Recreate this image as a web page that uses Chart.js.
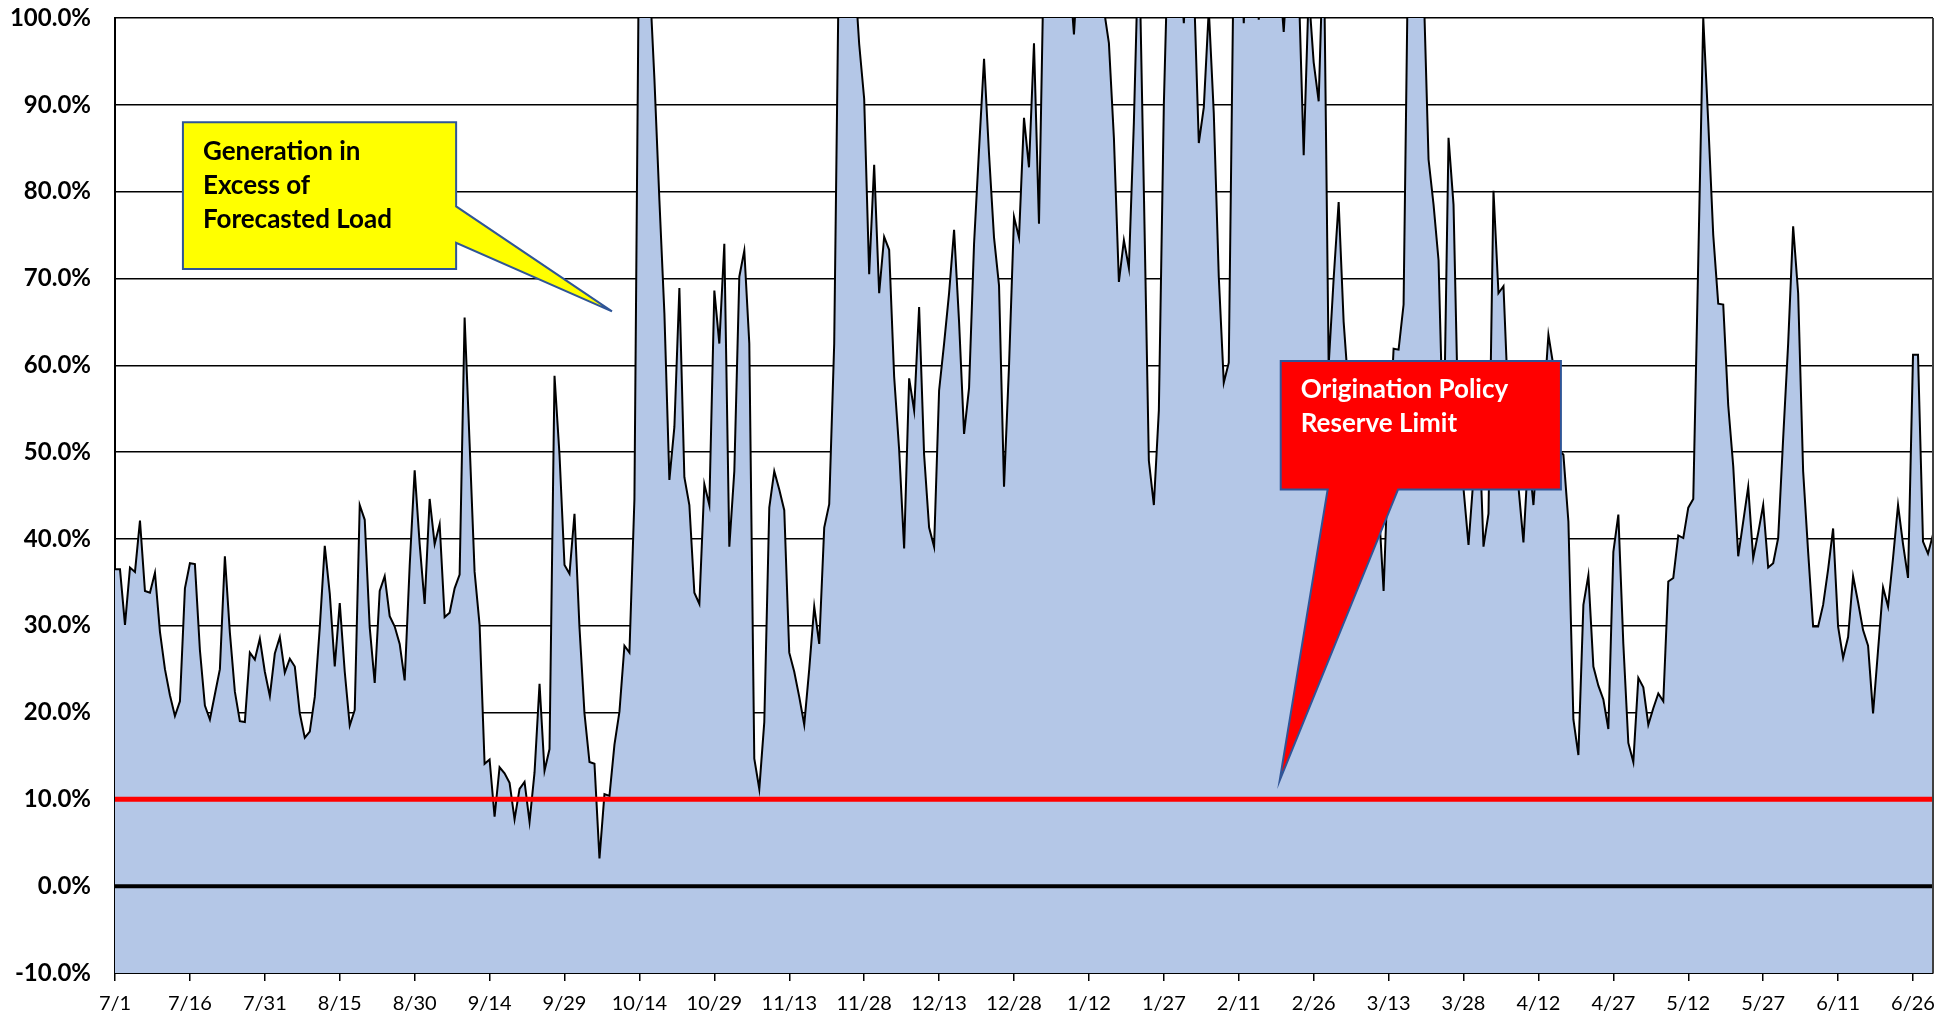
<!DOCTYPE html>
<html>
<head>
<meta charset="utf-8">
<script src="https://cdn.jsdelivr.net/npm/chart.js@4.4.1/dist/chart.umd.min.js"></script>
<style>
  html, body { margin: 0; padding: 0; background: #fff; }
  #wrap { width: 1958px; height: 1016px; }
</style>
</head>
<body>
<div id="wrap"><canvas id="reserveChart" width="1958" height="1016"></canvas></div>
<script>
// Daily reserve margin, 7/1 through 6/30 (one value per day, % of forecasted load)
const tickLabels = ['7/1', '7/16', '7/31', '8/15', '8/30', '9/14', '9/29', '10/14', '10/29', '11/13',
    '11/28', '12/13', '12/28', '1/12', '1/27', '2/11', '2/26', '3/13', '3/28', '4/12',
    '4/27', '5/12', '5/27', '6/11', '6/26'];

const reserveMargin = [
    36.5, 36.5, 30.1, 36.7, 36.2, 42.1, 34.0, 33.8, 36.1, 29.3,   // 7/1
    25.0, 22.0, 19.6, 21.3, 34.3, 37.2, 37.1, 27.2, 20.8, 19.2,
    22.1, 25.0, 38.0, 29.2, 22.4, 19.0, 18.9, 26.9, 26.1, 28.5,
    24.7, 21.9, 26.8, 28.7, 24.6, 26.2, 25.3, 19.9, 17.1, 17.8,   // 7/31
    21.8, 29.8, 39.2, 33.7, 25.3, 32.6, 24.7, 18.5, 20.3, 43.9,
    42.2, 29.8, 23.4, 34.0, 35.7, 31.1, 29.9, 27.9, 23.7, 36.9,
    47.9, 39.4, 32.5, 44.6, 39.4, 41.7, 31.0, 31.5, 34.3, 35.9,   // 8/30
    65.5, 51.0, 36.2, 30.1, 14.1, 14.6, 8.0, 13.7, 13.0, 11.9,
    7.7, 11.2, 12.0, 7.4, 13.1, 23.3, 13.3, 15.8, 58.8, 49.7,
    37.0, 36.0, 42.9, 29.8, 19.9, 14.3, 14.1, 3.2, 10.6, 10.4,    // 9/29
    16.3, 20.1, 27.7, 26.9, 44.6, 115, 125, 105, 93, 79,
    66, 46.8, 52.9, 68.9, 47.1, 43.9, 33.8, 32.5, 46.3, 43.9,
    68.6, 62.5, 74.0, 39.1, 47.8, 70.2, 73.2, 62.5, 14.7, 11.2,   // 10/29
    18.9, 43.6, 47.8, 45.7, 43.3, 26.9, 24.7, 21.8, 18.6, 25.0,
    32.2, 27.9, 41.3, 44.0, 62.5, 110, 118, 112, 106, 97,
    90.7, 70.5, 83.1, 68.3, 74.8, 73.3, 58.7, 50.3, 38.9, 58.5,   // 11/28
    54.8, 66.7, 49.7, 41.3, 39.1, 57.1, 62.5, 68.3, 75.6, 65,
    52.1, 57.4, 74.0, 84.9, 95.3, 84.3, 74.7, 69.2, 46.0, 59.9,
    77.1, 74.7, 88.5, 82.8, 97.1, 76.3, 108, 115, 122, 118,       // 12/28
    112, 106, 98.1, 108, 118, 125, 115, 108, 101, 97.1,
    86.2, 69.6, 74.4, 71.2, 88, 110, 80, 49.0, 43.9, 54.8,
    90, 112, 120, 108, 99.4, 110, 104, 85.6, 89.7, 101,           // 1/27
    89, 70.2, 58.0, 60.3, 108, 115, 99.4, 112, 118, 99.8,
    110, 120, 112, 106, 98.4, 108, 112, 104, 84.2, 103,
    94.9, 90.4, 110, 60, 70, 78.8, 65, 57, 52, 50,                // 2/26
    55, 48, 51, 44, 34.0, 50, 61.9, 61.8, 67.0, 112,
    125, 115, 104, 83.7, 78.5, 72.1, 50, 86.2, 78.5, 52,
    45.8, 39.3, 47.1, 55, 39.1, 42.9, 80.1, 68.3, 69.1, 55,       // 3/28
    50, 46, 39.6, 50, 43.9, 52, 55, 63.5, 59.9, 50.3,
    49.7, 42.0, 19.2, 15.1, 32.4, 35.8, 25.3, 23.1, 21.5, 18.1,
    38.5, 42.8, 27.9, 16.5, 14.3, 24.0, 22.9, 18.6, 20.5, 22.2,   // 4/27
    21.3, 35.1, 35.5, 40.4, 40.1, 43.6, 44.6, 72, 100, 88,
    75, 67.1, 67.0, 55.4, 48.4, 38.0, 42.0, 46.0, 37.8, 40.7,
    43.9, 36.7, 37.2, 40.1, 51.6, 62.5, 76.0, 68.3, 47.8, 38.5,   // 5/27
    29.9, 29.9, 32.4, 36.5, 41.2, 29.9, 26.3, 28.7, 35.7, 32.7,
    29.5, 27.7, 19.9, 27.2, 34.4, 32.2, 37.8, 43.9, 39.4, 35.5,
    61.2, 61.2, 39.7, 38.3, 40.5                                  // 6/26
];

const reserveLimit = 10;   // origination policy reserve limit, %
const zeroLevel = 0;

const lastDay = reserveMargin.length - 1;
const marginPoints = reserveMargin.map((v, i) => ({ x: i, y: v }));

// callout boxes, placed in data units (day index, %)
const callouts = [
    {
        lines: ['Generation in', 'Excess of', 'Forecasted Load'],
        fill: '#FFFF00', textColor: '#000',
        box: [13.6, 68.3, 88.0, 71.1], side: 'right', base: [78.3, 74.1], tip: [99.5, 66.2]
    },
    {
        lines: ['Origination Policy', 'Reserve Limit'],
        fill: '#FF0000', textColor: '#fff',
        box: [233.4, 289.5, 60.5, 45.7], side: 'bottom', base: [242.8, 256.9], tip: [233.2, 12.2]
    }
];

const calloutPlugin = {
    id: 'callouts',
    afterDraw(chart) {
        const c = chart.ctx;
        const xs = chart.scales.x, ys = chart.scales.y;
        const area = chart.chartArea;

        // right edge of the plot area
        c.save();
        c.strokeStyle = '#404040';
        c.lineWidth = 2;
        c.beginPath();
        c.moveTo(area.right, area.top);
        c.lineTo(area.right, area.bottom);
        c.stroke();
        c.restore();

        callouts.forEach(co => {
            const left = xs.getPixelForValue(co.box[0]);
            const right = xs.getPixelForValue(co.box[1]);
            const top = ys.getPixelForValue(co.box[2]);
            const bottom = ys.getPixelForValue(co.box[3]);
            const tx = xs.getPixelForValue(co.tip[0]);
            const ty = ys.getPixelForValue(co.tip[1]);

            c.save();
            c.beginPath();
            c.moveTo(left, top);
            c.lineTo(right, top);
            if (co.side === 'right') {
                c.lineTo(right, ys.getPixelForValue(co.base[0]));
                c.lineTo(tx, ty);
                c.lineTo(right, ys.getPixelForValue(co.base[1]));
                c.lineTo(right, bottom);
                c.lineTo(left, bottom);
            } else {
                c.lineTo(right, bottom);
                c.lineTo(xs.getPixelForValue(co.base[1]), bottom);
                c.lineTo(tx, ty);
                c.lineTo(xs.getPixelForValue(co.base[0]), bottom);
                c.lineTo(left, bottom);
            }
            c.closePath();
            c.fillStyle = co.fill;
            c.fill();
            c.strokeStyle = '#2F5597';
            c.lineWidth = 2;
            c.lineJoin = 'miter';
            c.stroke();

            c.fillStyle = co.textColor;
            c.font = 'bold 26px Lato';
            c.textBaseline = 'middle';
            c.textAlign = 'left';
            co.lines.forEach((t, i) => {
                c.fillText(t, left + 20, top + 29 + i * 34);
            });
            c.restore();
        });
    }
};

const ctx = document.getElementById('reserveChart').getContext('2d');
new Chart(ctx, {
    type: 'line',
    data: {
        datasets: [
            {
                label: 'Reserve Margin',
                data: marginPoints,
                borderColor: '#000',
                borderWidth: 2,
                backgroundColor: '#B4C7E7',
                fill: 'start',
                pointRadius: 0,
                tension: 0,
                clip: 0,
                order: 3
            },
            {
                label: 'Zero',
                data: [{ x: 0, y: zeroLevel }, { x: lastDay, y: zeroLevel }],
                borderColor: '#000',
                borderWidth: 4,
                pointRadius: 0,
                fill: false,
                order: 2
            },
            {
                label: 'Origination Policy Reserve Limit',
                data: [{ x: 0, y: reserveLimit }, { x: lastDay, y: reserveLimit }],
                borderColor: '#FF0000',
                borderWidth: 5,
                pointRadius: 0,
                fill: false,
                order: 1
            }
        ]
    },
    options: {
        responsive: false,
        animation: false,
        devicePixelRatio: 1,
        layout: { padding: { top: 18, right: 25, left: 0, bottom: 0 } },
        plugins: {
            legend: { display: false },
            tooltip: { enabled: false }
        },
        scales: {
            x: {
                type: 'linear',
                min: 0,
                max: lastDay,
                border: { color: '#000', width: 2 },
                grid: { drawOnChartArea: false, drawTicks: true, tickLength: 8, color: '#000', lineWidth: 1.5 },
                ticks: {
                    stepSize: 15,
                    autoSkip: false,
                    includeBounds: false,
                    maxRotation: 0,
                    padding: 11,
                    color: '#000',
                    font: { family: 'Lato', size: 20 },
                    callback: v => tickLabels[v / 15]
                },
                afterFit: s => { s.height = 43; s.paddingLeft = 0; s.paddingRight = 0; }
            },
            y: {
                min: -10,
                max: 100,
                border: { color: '#000', width: 2 },
                grid: { color: '#000', lineWidth: 1.5, drawTicks: false },
                ticks: {
                    stepSize: 10,
                    padding: 24,
                    color: '#000',
                    font: { family: 'Lato', size: 24, weight: 'bold' },
                    callback: v => v.toFixed(1) + '%'
                },
                afterFit: s => { s.width = 115; s.paddingTop = 0; s.paddingBottom = 0; }
            }
        }
    },
    plugins: [calloutPlugin]
});
</script>
</body>
</html>
